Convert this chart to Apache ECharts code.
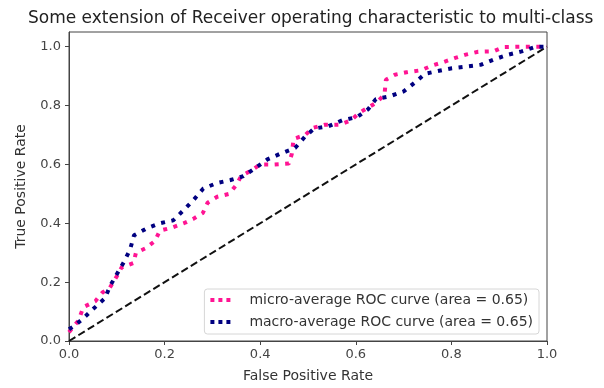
<!DOCTYPE html>
<html><head><meta charset="utf-8">
<script src="https://cdn.jsdelivr.net/npm/echarts@6/dist/echarts.min.js"></script>
<style>html,body{margin:0;padding:0;background:#fff}#c{width:604px;height:388px}</style>
</head><body><div id="c"></div>
<script>
const chartTitle = 'Some extension of Receiver operating characteristic to multi-class';
const xTicks = [0, 0.2, 0.4, 0.6, 0.8, 1.0];
const yTicks = [0, 0.2, 0.4, 0.6, 0.8, 1.0];
const microName = 'micro-average ROC curve (area = 0.65)';
const macroName = 'macro-average ROC curve (area = 0.65)';
const microFpr = [0,0.02,0.03,0.055,0.07,0.085,0.1,0.11,0.135,0.14,0.16,0.18,0.19,0.215,0.24,0.26,0.28,0.29,0.31,0.335,0.35,0.36,0.38,0.40,0.43,0.46,0.466,0.47,0.494,0.51,0.536,0.567,0.59,0.607,0.643,0.66,0.663,0.682,0.706,0.736,0.76,0.784,0.808,0.83,0.856,0.888,0.909,0.944,1.0];
const microTpr = [0.03,0.07,0.115,0.135,0.165,0.18,0.22,0.25,0.265,0.30,0.315,0.34,0.375,0.385,0.40,0.415,0.435,0.47,0.49,0.50,0.53,0.56,0.578,0.60,0.60,0.603,0.635,0.687,0.70,0.724,0.735,0.735,0.75,0.775,0.81,0.837,0.888,0.905,0.913,0.92,0.936,0.948,0.962,0.973,0.983,0.984,0.999,1.0,1.0];
const macroFpr = [0,0.01,0.03,0.05,0.075,0.086,0.10,0.115,0.128,0.136,0.162,0.19,0.218,0.24,0.261,0.281,0.31,0.338,0.365,0.391,0.415,0.443,0.473,0.494,0.513,0.543,0.572,0.603,0.626,0.642,0.67,0.70,0.724,0.745,0.771,0.801,0.832,0.862,0.888,0.919,0.947,0.977,1.0];
const macroTpr = [0.04,0.05,0.077,0.108,0.145,0.187,0.227,0.269,0.312,0.359,0.382,0.40,0.41,0.445,0.48,0.518,0.537,0.547,0.56,0.589,0.617,0.637,0.656,0.695,0.722,0.73,0.75,0.761,0.788,0.822,0.831,0.848,0.879,0.908,0.917,0.927,0.933,0.939,0.956,0.973,0.984,1.0,1.0];
const chanceX = [0, 1];
const chanceY = [0, 1];

const zip = (a, b) => a.map((v, i) => [v, b[i]]);
const font = 'DejaVu Sans';
const chart = echarts.init(document.getElementById('c'), null, {renderer: 'canvas'});
chart.setOption({
  animation: false,
  backgroundColor: '#fff',
  title: {text: chartTitle, left: 23, top: 5, textStyle: {fontFamily: font, fontSize: 17, fontWeight: 'normal', color: '#222'}},
  grid: {left: 69, right: 57, top: 32, bottom: 46, show: true, borderColor: '#444', borderWidth: 1, containLabel: false},
  legend: {
    data: [microName, macroName], orient: 'vertical', right: 65, bottom: 54,
    backgroundColor: 'rgba(255,255,255,0.8)', borderColor: '#d6d6d6', borderWidth: 1, borderRadius: 3,
    padding: [4, 6, 5, 6], itemGap: 8, itemWidth: 20, itemHeight: 5,
    icon: 'path://M0,0h4v4h-4z M8,0h4v4h-4z M16,0h4v4h-4z',
    textStyle: {fontFamily: font, fontSize: 14, color: '#333', padding: [0, 0, 0, 14]}
  },
  xAxis: {
    type: 'value', min: 0, max: 1, interval: 0.2,
    name: 'False Positive Rate', nameLocation: 'middle', nameGap: 28,
    nameTextStyle: {fontFamily: font, fontSize: 14, color: '#333'},
    axisLine: {show: true, lineStyle: {color: '#444'}},
    axisTick: {show: true, length: 4, lineStyle: {color: '#444'}, customValues: xTicks},
    axisLabel: {fontFamily: font, fontSize: 13, color: '#444', margin: 7, customValues: xTicks, formatter: v => v.toFixed(1)},
    splitLine: {show: false}
  },
  yAxis: {
    type: 'value', min: 0, max: 1.05,
    name: 'True Positive Rate', nameLocation: 'middle', nameGap: 41,
    nameTextStyle: {fontFamily: font, fontSize: 14, color: '#333'},
    axisLine: {show: true, lineStyle: {color: '#444'}},
    axisTick: {show: true, length: 4, lineStyle: {color: '#444'}, customValues: yTicks},
    axisLabel: {fontFamily: font, fontSize: 13, color: '#444', margin: 8, customValues: yTicks, formatter: v => v.toFixed(1)},
    splitLine: {show: false}
  },
  series: [
    {name: microName, type: 'line', data: zip(microFpr, microTpr), showSymbol: false, symbol: 'none',
     itemStyle: {color: '#ff1493'}, lineStyle: {color: '#ff1493', width: 4, type: [4, 6.5], cap: 'butt'}, z: 3},
    {name: macroName, type: 'line', data: zip(macroFpr, macroTpr), showSymbol: false, symbol: 'none',
     itemStyle: {color: '#000080'}, lineStyle: {color: '#000080', width: 4, type: [4, 6.5], cap: 'butt'}, z: 3},
    {name: 'chance', type: 'line', data: zip(chanceX, chanceY), showSymbol: false, symbol: 'none',
     lineStyle: {color: '#111', width: 2, type: [7.5, 3.5]}, z: 2}
  ]
});
</script></body></html>
